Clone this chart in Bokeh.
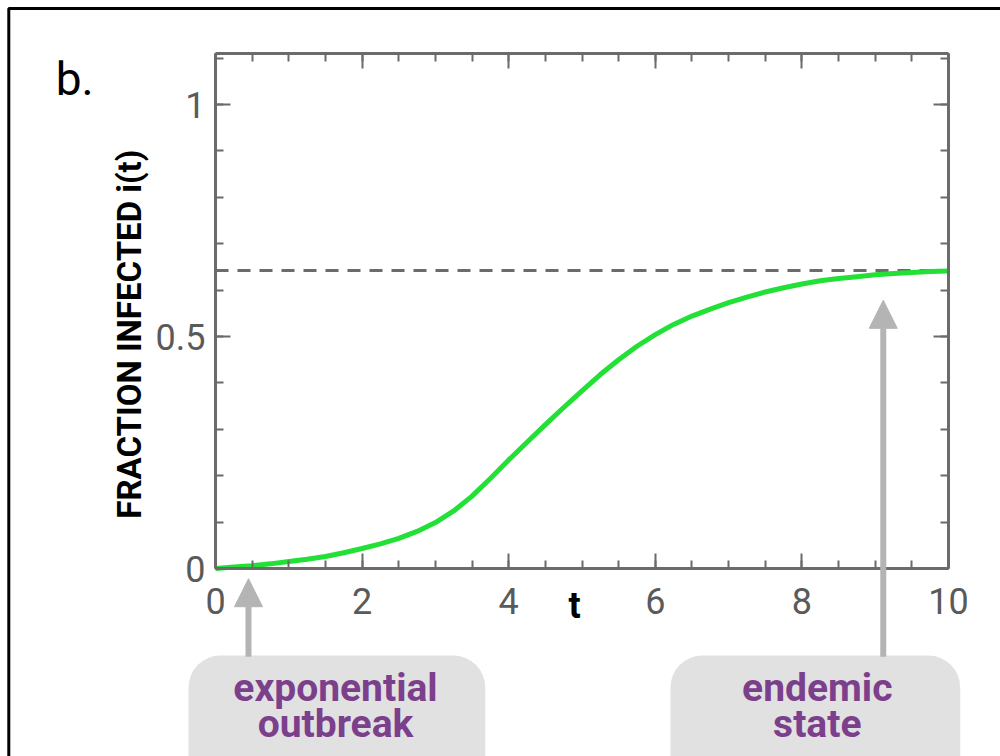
import math
from bokeh.plotting import figure
from bokeh.models import (LinearAxis, FixedTicker, Range1d, Label, BoxAnnotation,
                          Arrow, NormalHead)
from bokeh.embed import file_html
from bokeh.resources import INLINE

# ---- data ----
time = [0, 0.25, 0.5, 0.75, 1, 1.25, 1.5, 1.75, 2, 2.25, 2.5, 2.75, 3, 3.25, 3.5, 3.75,
        4, 4.25, 4.5, 4.75, 5, 5.25, 5.5, 5.75, 6, 6.25, 6.5, 6.75, 7, 7.25, 7.5, 7.75,
        8, 8.25, 8.5, 8.75, 9, 9.25, 9.5, 9.75, 10]
fraction = [0, 0.003, 0.006, 0.010, 0.015, 0.020, 0.026, 0.034, 0.043, 0.053, 0.065, 0.080,
            0.099, 0.124, 0.156, 0.194, 0.234, 0.272, 0.310, 0.347, 0.383, 0.418, 0.450,
            0.479, 0.504, 0.526, 0.544, 0.559, 0.573, 0.585, 0.596, 0.605, 0.613, 0.620,
            0.625, 0.629, 0.633, 0.636, 0.638, 0.640, 0.641]
endemic_level = 0.642
x_major = [0, 2, 4, 6, 8, 10]
x_minor = [i * 0.5 for i in range(21)]
y_major = [0, 0.5, 1]
y_minor = [i * 0.1 for i in range(12)]
y_tick_labels = {0: "0", 0.5: "0.5", 1: "1"}
x_limits = (0, 10)
y_limits = (0, 1.11)
outbreak_t = 0.45
endemic_t = 9.11
endemic_arrow_tip = 0.578

GRAY = "#6b6b6b"
LABEL_GRAY = "#5a5a5a"
PURPLE = "#7b3f8c"
BOX = "#e1e1e1"
ARROW = "#b4b4b4"

# the frame covers the whole canvas; the plot box is drawn by bounded axes
PX_X = 73.3   # pixels per unit t
PX_Y = 464.0  # pixels per unit fraction
X0, Y0 = 215, 568  # pixel position of the origin
p = figure(width=1000, height=756, output_backend="svg", toolbar_location=None,
           x_range=Range1d(-X0 / PX_X, (1000 - X0) / PX_X),
           y_range=Range1d(-(756 - Y0) / PX_Y, Y0 / PX_Y),
           min_border=0, x_axis_location=None, y_axis_location=None)
p.grid.visible = False
p.outline_line_color = None
p.background_fill_color = "white"
p.border_fill_color = "white"

xt = FixedTicker(ticks=x_major, minor_ticks=x_minor)
yt = FixedTicker(ticks=y_major, minor_ticks=y_minor)

def style(ax, show_labels):
    ax.axis_line_color = GRAY
    ax.axis_line_width = 3
    ax.major_tick_line_color = GRAY
    ax.minor_tick_line_color = GRAY
    ax.major_tick_line_width = 2
    ax.minor_tick_line_width = 2
    ax.major_tick_in = 15
    ax.major_tick_out = 0
    ax.minor_tick_in = 8
    ax.minor_tick_out = 0
    ax.major_label_text_font = "Roboto"
    ax.major_label_text_font_size = "36px"
    ax.major_label_text_color = LABEL_GRAY if show_labels else None

bottom = LinearAxis(ticker=xt, fixed_location=y_limits[0], bounds=x_limits)
style(bottom, True)
bottom.major_label_standoff = 19
p.add_layout(bottom, "below")

top = LinearAxis(ticker=xt, fixed_location=y_limits[1], bounds=x_limits)
style(top, False)
p.add_layout(top, "above")

left = LinearAxis(ticker=yt, fixed_location=x_limits[0], bounds=y_limits)
style(left, True)
left.major_label_overrides = y_tick_labels
left.major_label_standoff = 10
p.add_layout(left, "left")

right = LinearAxis(ticker=yt, fixed_location=x_limits[1], bounds=y_limits)
style(right, False)
p.add_layout(right, "right")

# dashed endemic level
p.line([0, 10], [endemic_level, endemic_level], line_color=GRAY, line_width=3,
       line_dash="13 9")
# infection curve
p.line(time, fraction, line_color="#22e035", line_width=5)

# outer black frame (left and top edges; right and bottom lie off the page)
p.line([-2.82, -2.82, 12], [-0.7, 1.207, 1.207], line_color="black", line_width=3)

# y axis title
p.add_layout(Label(x=-1.17, y=0.505, text="FRACTION INFECTED i(t)", angle=math.pi / 2,
                   text_font="Roboto", text_font_style="bold", text_font_size="33px",
                   text_color="black", text_align="center", text_baseline="middle"))
# x axis label "t"
p.add_layout(Label(x=4.9, y=-0.08, text="t", text_font="Roboto", text_font_style="bold",
                   text_font_size="36px", text_color="black", text_align="center",
                   text_baseline="middle"))
# panel letter
p.add_layout(Label(x=-2.18, y=1.054, text="b.", text_font="Roboto",
                   text_font_size="46px", text_color="black", text_align="left",
                   text_baseline="middle"))

# rounded boxes
p.add_layout(BoxAnnotation(left=-0.368, right=3.68, top=-0.1875, bottom=-0.6,
                           fill_color=BOX, fill_alpha=1, line_color=None, border_radius=32))
p.add_layout(BoxAnnotation(left=6.207, right=10.16, top=-0.1875, bottom=-0.6,
                           fill_color=BOX, fill_alpha=1, line_color=None, border_radius=32))

# arrows
p.add_layout(Arrow(x_start=outbreak_t, y_start=-0.19, x_end=outbreak_t, y_end=-0.022,
                   line_color=ARROW, line_width=6,
                   end=NormalHead(size=28, fill_color=ARROW, line_color=ARROW, line_width=1)))
p.add_layout(Arrow(x_start=endemic_t, y_start=-0.19, x_end=endemic_t, y_end=endemic_arrow_tip,
                   line_color=ARROW, line_width=6,
                   end=NormalHead(size=28, fill_color=ARROW, line_color=ARROW, line_width=1)))

# box texts
for (x, y, txt) in [(1.637, -0.257, "exponential"), (1.637, -0.336, "outbreak"),
                    (8.21, -0.257, "endemic"), (8.21, -0.336, "state")]:
    p.add_layout(Label(x=x, y=y, text=txt, text_font="Roboto", text_font_style="bold",
                       text_font_size="39px", text_color=PURPLE, text_align="center",
                       text_baseline="middle"))

open("out.html", "w").write(file_html(p, INLINE))
